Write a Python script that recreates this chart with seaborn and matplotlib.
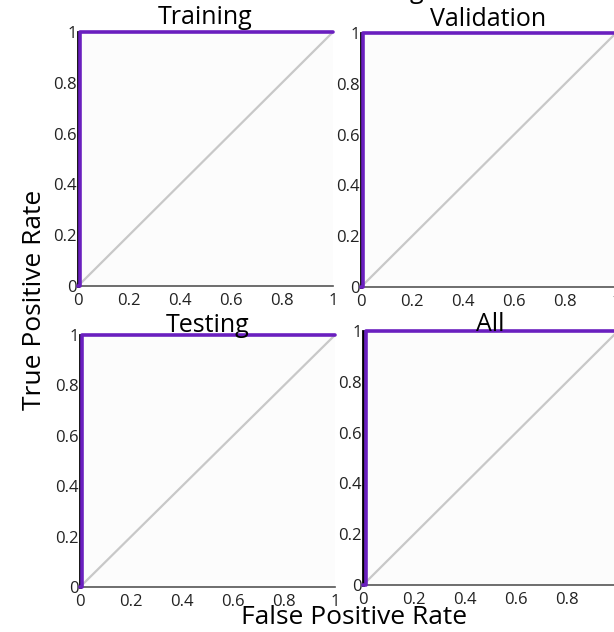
import matplotlib
matplotlib.use("Agg")
import matplotlib.pyplot as plt
import seaborn as sns
import pandas as pd

# ---- data ----
panels = ["Training", "Validation", "Testing", "All"]
fpr_training = [0.0, 0.009, 0.009, 1.0]
tpr_training = [0.0, 0.0, 1.0, 1.0]
fpr_validation = [0.0, 0.009, 0.009, 1.0]
tpr_validation = [0.0, 0.0, 1.0, 1.0]
fpr_testing = [0.0, 0.009, 0.009, 1.0]
tpr_testing = [0.0, 0.0, 1.0, 1.0]
fpr_all = [0.0, 0.013, 0.013, 1.0]
tpr_all = [0.0, 0.0, 1.0, 1.0]
diag_x = [0.0, 1.0]
diag_y = [0.0, 1.0]
tick_values = [0, 0.2, 0.4, 0.6, 0.8, 1]
tick_labels = ["0", "0.2", "0.4", "0.6", "0.8", "1"]

curves = {
    "Training": (fpr_training, tpr_training),
    "Validation": (fpr_validation, tpr_validation),
    "Testing": (fpr_testing, tpr_testing),
    "All": (fpr_all, tpr_all),
}

sns.set_theme(style="white")
plt.rcParams['font.family'] = ['Open Sans', 'DejaVu Sans']

fig = plt.figure(figsize=(6.14, 6.32), dpi=100)
fig.patch.set_facecolor("white")

positions = {
    "Training": [78 / 614, 1 - 286 / 632, 255 / 614, 254 / 632],
    "Validation": [361 / 614, 1 - 287 / 632, 255 / 614, 254 / 632],
    "Testing": [80 / 614, 1 - 587 / 632, 255 / 614, 252 / 632],
    "All": [363 / 614, 1 - 585 / 632, 255 / 614, 254 / 632],
}
title_pads = {"Training": 6, "Validation": 5, "Testing": 2, "All": 0}

purple = "#6a1fbf"
for name in panels:
    ax = fig.add_axes(positions[name])
    ax.set_facecolor("#fcfcfc")
    fx, ty = curves[name]
    sns.lineplot(x=diag_x, y=diag_y, ax=ax, color="#c8c8c8", linewidth=1.6,
                 estimator=None, sort=False)
    sns.lineplot(x=fx, y=ty, ax=ax, color=purple, linewidth=2.6,
                 estimator=None, sort=False, zorder=3, clip_on=False)
    ax.set_xlim(0, 1)
    ax.set_ylim(0, 1)
    ax.set_xticks(tick_values)
    ax.set_xticklabels(tick_labels)
    ax.set_yticks(tick_values)
    ax.set_yticklabels(tick_labels)
    ax.tick_params(axis="both", direction="in", length=3, width=0.8,
                   color="#777777", labelsize=12, labelcolor="#222222")
    ax.tick_params(axis="y", pad=1)
    ax.tick_params(axis="x", pad=5)
    for s in ["top", "right"]:
        ax.spines[s].set_visible(False)
    ax.spines["left"].set_color("black")
    ax.spines["left"].set_linewidth(2.0)
    ax.spines["left"].set_zorder(2.5)
    ax.spines["bottom"].set_color("#555555")
    ax.spines["bottom"].set_linewidth(1.2)
    ax.set_xlabel("")
    ax.set_ylabel("")
    ax.set_title(name, fontsize=18, pad=title_pads[name], color="black")

fig.text(35 / 614, 1 - 300 / 632, "True Positive Rate", rotation=90,
         fontsize=19, ha="center", va="center", color="black")
fig.text(354 / 614, 1 - 617 / 632, "False Positive Rate",
         fontsize=19, ha="center", va="center", color="black")
fig.text(410 / 614, 1.003, "g", fontsize=18, ha="left", va="baseline",
         color="black")

fig.savefig("out.png", dpi=100)
